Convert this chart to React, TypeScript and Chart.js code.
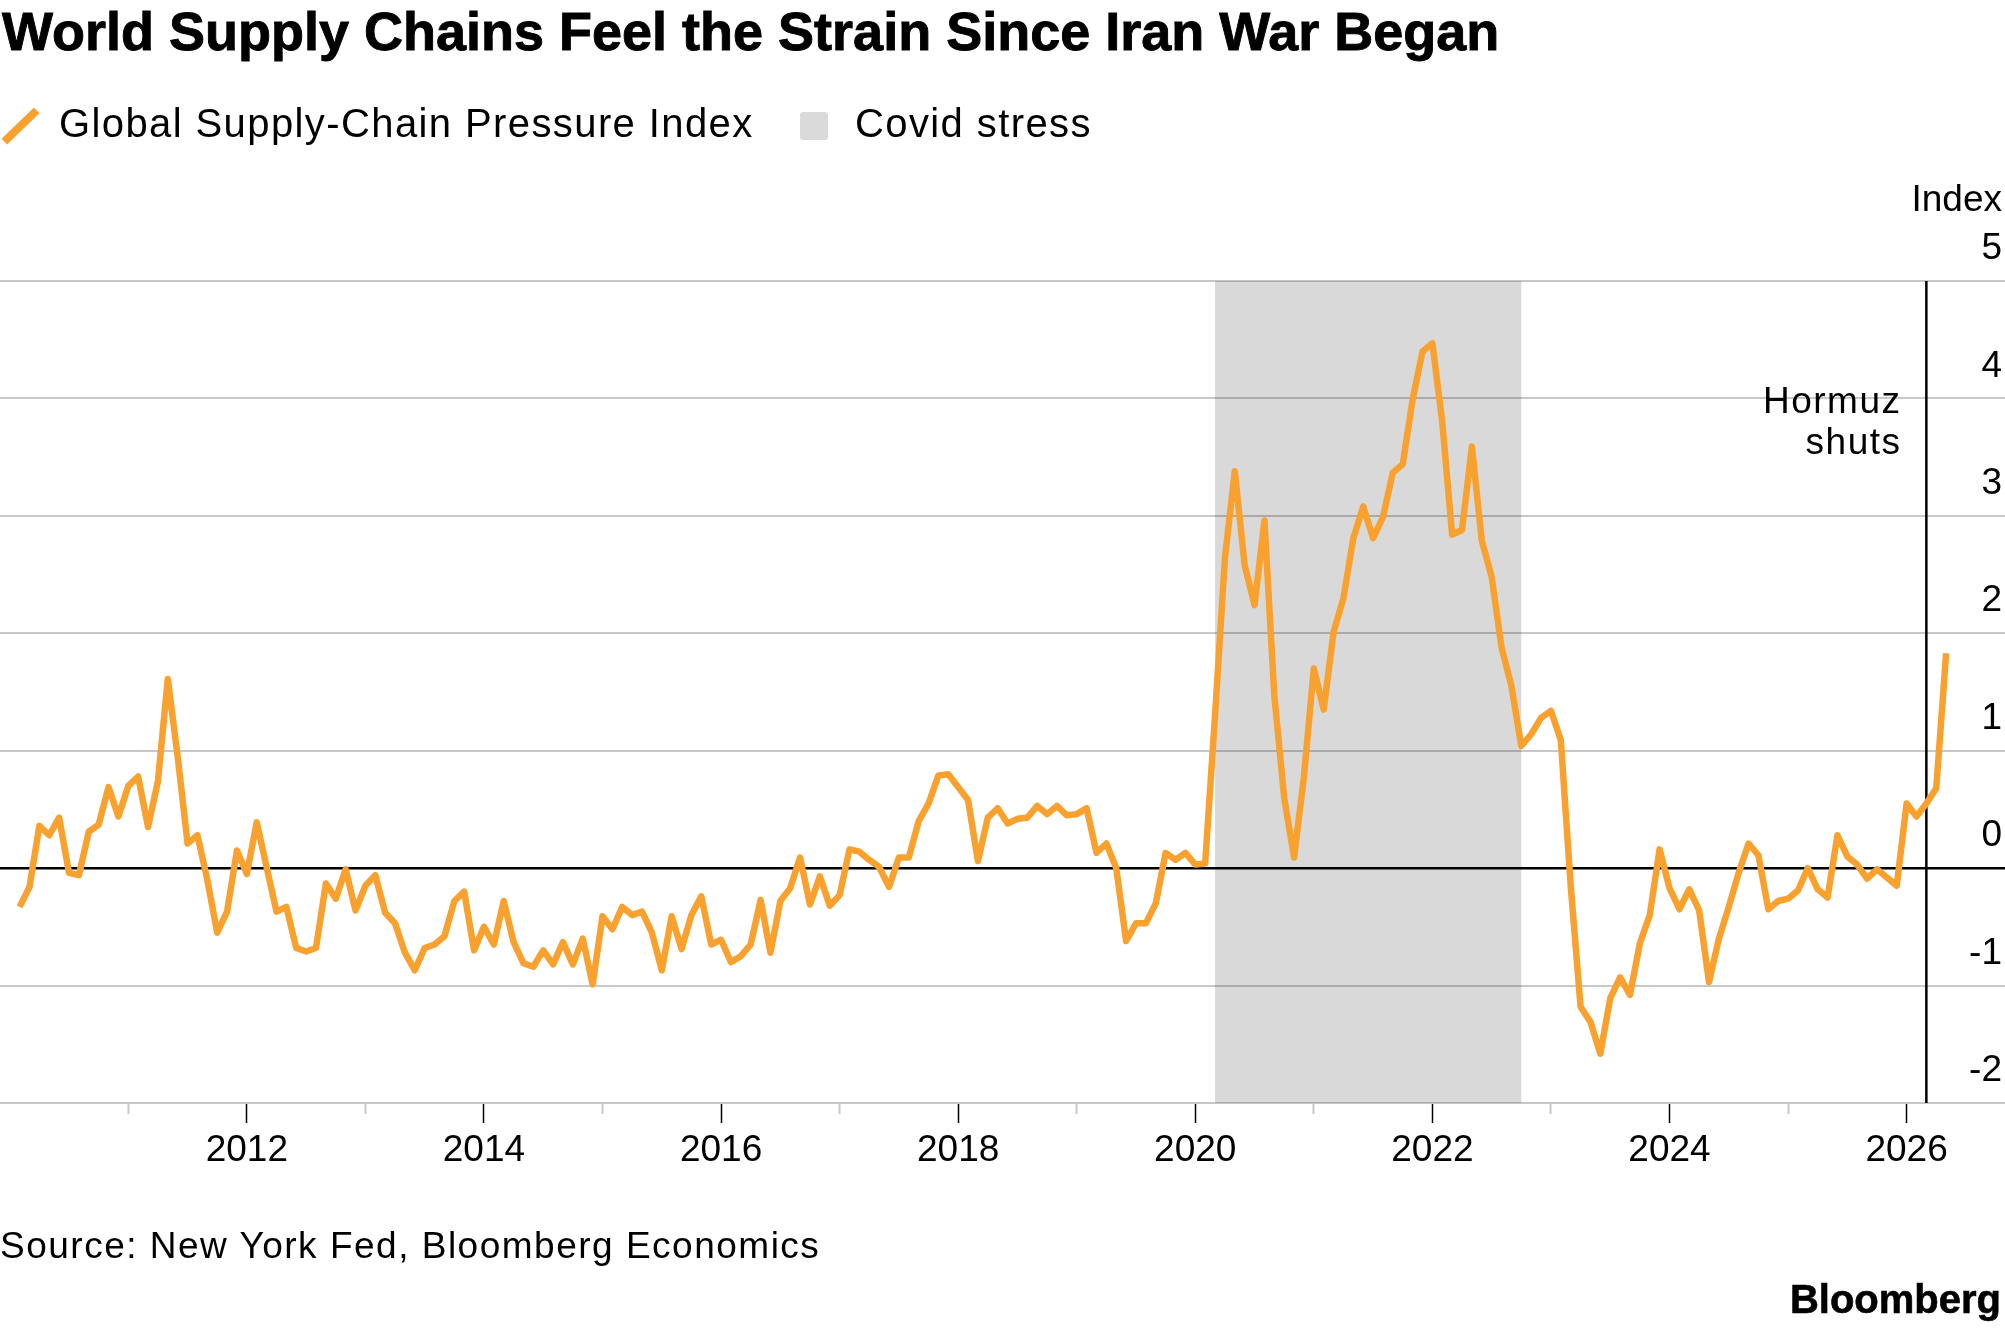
import React, { useEffect, useRef } from 'react';
import { Chart, registerables } from 'chart.js';

Chart.register(...registerables);

// ---- Data (Global Supply-Chain Pressure Index, monthly, Jan 2010 - Apr 2026) ----
const START_YEAR = 2010;
const v2010 = [-0.33, -0.16, 0.36, 0.28, 0.43, -0.04, -0.06, 0.31, 0.37, 0.69, 0.44, 0.7];
const v2011 = [0.78, 0.35, 0.74, 1.61, 0.95, 0.21, 0.28, -0.1, -0.55, -0.37, 0.15, -0.05];
const v2012 = [0.39, 0.01, -0.37, -0.33, -0.68, -0.71, -0.68, -0.13, -0.26, -0.01, -0.36, -0.15];
const v2013 = [-0.06, -0.38, -0.47, -0.72, -0.87, -0.68, -0.65, -0.58, -0.28, -0.2, -0.7, -0.5];
const v2014 = [-0.65, -0.28, -0.63, -0.81, -0.84, -0.7, -0.82, -0.63, -0.82, -0.6, -0.99, -0.41];
const v2015 = [-0.52, -0.33, -0.4, -0.37, -0.55, -0.87, -0.41, -0.69, -0.4, -0.24, -0.65, -0.61];
const v2016 = [-0.8, -0.75, -0.65, -0.27, -0.72, -0.28, -0.17, 0.09, -0.31, -0.07, -0.32, -0.23];
const v2017 = [0.16, 0.14, 0.07, 0.01, -0.16, 0.09, 0.09, 0.4, 0.55, 0.79, 0.8, 0.69];
const v2018 = [0.58, 0.06, 0.43, 0.51, 0.38, 0.42, 0.43, 0.53, 0.46, 0.53, 0.45, 0.46];
const v2019 = [0.51, 0.13, 0.21, 0.0, -0.62, -0.47, -0.47, -0.3, 0.13, 0.07, 0.13, 0.03];
const v2020 = [0.04, 1.3, 2.64, 3.38, 2.58, 2.24, 2.96, 1.47, 0.6, 0.09, 0.78, 1.7];
const v2021 = [1.35, 2.01, 2.3, 2.81, 3.08, 2.81, 2.99, 3.37, 3.44, 3.99, 4.4, 4.47];
const v2022 = [3.8, 2.84, 2.88, 3.59, 2.79, 2.48, 1.88, 1.55, 1.04, 1.14, 1.28, 1.34];
const v2023 = [1.09, -0.15, -1.18, -1.31, -1.58, -1.11, -0.93, -1.08, -0.64, -0.4, 0.16, -0.17];
const v2024 = [-0.35, -0.18, -0.36, -0.97, -0.6, -0.33, -0.04, 0.21, 0.11, -0.35, -0.28, -0.26];
const v2025 = [-0.19, 0.0, -0.18, -0.25, 0.28, 0.1, 0.03, -0.09, -0.01, -0.08, -0.15, 0.55];
const v2026 = [0.44, 0.55, 0.68, 1.83];
const YEARLY_VALUES = [
  v2010, v2011, v2012, v2013, v2014, v2015, v2016, v2017, v2018,
  v2019, v2020, v2021, v2022, v2023, v2024, v2025, v2026,
];

const MAJOR_YEARS = [2012, 2014, 2016, 2018, 2020, 2022, 2024, 2026];
const MINOR_YEARS = [2011, 2013, 2015, 2017, 2019, 2021, 2023, 2025];
const Y_TICKS = [-2, -1, 0, 1, 2, 3, 4, 5];

const COVID_START = 2020 + 2 / 12; // Feb 2020
const COVID_END = 2022 + 9 / 12; // Sep 2022
const HORMUZ_SHUT = 2026 + 2 / 12; // Feb 2026

const X_MIN = 2009.918;
const X_MAX = 2026.83;

const ORANGE = '#f9a12e';
const FONT = '"Liberation Sans", Arial, Helvetica, sans-serif';

function buildPoints() {
  const pts: { x: number; y: number }[] = [];
  YEARLY_VALUES.forEach((arr, yi) => {
    arr.forEach((v, m) => {
      pts.push({ x: START_YEAR + yi + (m + 1) / 12, y: v });
    });
  });
  return pts;
}

const overlayPlugin = {
  id: 'overlay',
  beforeDatasetsDraw(chart: any) {
    const { ctx, chartArea, scales } = chart;
    const x = scales.x;
    ctx.save();
    const x0 = x.getPixelForValue(COVID_START);
    const x1 = x.getPixelForValue(COVID_END);
    ctx.fillStyle = 'rgba(0,0,0,0.15)';
    ctx.fillRect(x0, chartArea.top, x1 - x0, chartArea.bottom - chartArea.top);
    const hx = x.getPixelForValue(HORMUZ_SHUT);
    ctx.strokeStyle = '#000';
    ctx.lineWidth = 2.5;
    ctx.beginPath();
    ctx.moveTo(hx, chartArea.top);
    ctx.lineTo(hx, chartArea.bottom);
    ctx.stroke();
    ctx.restore();
  },
};

export default function App() {
  const canvasRef = useRef<HTMLCanvasElement | null>(null);

  useEffect(() => {
    if (!canvasRef.current) return;
    Chart.defaults.font.family = FONT;
    const chart = new Chart(canvasRef.current, {
      type: 'line',
      data: {
        datasets: [
          {
            label: 'Global Supply-Chain Pressure Index',
            data: buildPoints(),
            borderColor: ORANGE,
            borderWidth: 6.5,
            pointRadius: 0,
            tension: 0,
            borderJoinStyle: 'round',
            borderCapStyle: 'butt',
            fill: false,
            xAxisID: 'x',
            yAxisID: 'y',
          },
        ],
      },
      options: {
        animation: false,
        responsive: false,
        maintainAspectRatio: false,
        layout: { padding: { top: 281, left: 0, right: 0, bottom: 156 } },
        plugins: {
          legend: { display: false },
          tooltip: { enabled: false },
          title: { display: false },
        },
        scales: {
          x: {
            type: 'linear',
            position: 'bottom',
            weight: 1,
            min: X_MIN,
            max: X_MAX,
            afterBuildTicks: (s: any) => {
              s.ticks = MAJOR_YEARS.map((v) => ({ value: v }));
            },
            afterFit: (s: any) => {
              s.height = 70;
            },
            grid: {
              drawOnChartArea: false,
              drawTicks: true,
              tickLength: 20,
              tickColor: '#000',
              tickWidth: 1.5,
            },
            border: { display: true, color: '#c8c8c8', width: 2 },
            ticks: {
              autoSkip: false,
              maxRotation: 0,
              padding: 6,
              color: '#000',
              font: { size: 37, family: FONT },
              callback: (v: any) => String(v),
            },
          },
          x2: {
            type: 'linear',
            position: 'bottom',
            weight: 0,
            min: X_MIN,
            max: X_MAX,
            afterBuildTicks: (s: any) => {
              s.ticks = MINOR_YEARS.map((v) => ({ value: v }));
            },
            afterFit: (s: any) => {
              s.height = 0;
            },
            grid: {
              drawOnChartArea: false,
              drawTicks: true,
              tickLength: 11,
              tickColor: '#c8c8c8',
              tickWidth: 2,
            },
            border: { display: false },
            ticks: { display: false },
          },
          y: {
            type: 'linear',
            position: 'right',
            min: -2,
            max: 5,
            afterBuildTicks: (s: any) => {
              s.ticks = Y_TICKS.map((v) => ({ value: v }));
            },
            afterFit: (s: any) => {
              s.width = 0;
            },
            grid: {
              drawTicks: false,
              color: (c: any) => (c.tick && c.tick.value === 0 ? '#000' : '#c8c8c8'),
              lineWidth: (c: any) => (c.tick && c.tick.value === 0 ? 2.5 : 2),
            },
            border: { display: false },
            ticks: {
              mirror: true,
              padding: -3,
              labelOffset: -32,
              color: '#000',
              font: { size: 37, family: FONT },
              callback: (v: any) => String(v),
            },
          },
        },
      } as any,
      plugins: [overlayPlugin],
    });
    return () => chart.destroy();
  }, []);

  const base: React.CSSProperties = {
    position: 'absolute',
    fontFamily: FONT,
    color: '#000',
    whiteSpace: 'nowrap',
    margin: 0,
  };

  return (
    <div
      style={{
        position: 'absolute',
        left: 0,
        top: 0,
        width: 2005,
        height: 1329,
        background: '#fff',
        overflow: 'hidden',
      }}
    >
      <canvas
        ref={canvasRef}
        width={2005}
        height={1329}
        style={{ position: 'absolute', left: 0, top: 0, width: 2005, height: 1329 }}
      />
      <div
        style={{
          ...base,
          left: 2,
          top: 4.3,
          fontSize: 54,
          lineHeight: '54px',
          fontWeight: 700,
          WebkitTextStroke: '0.9px #000',
        }}
      >
        World Supply Chains Feel the Strain Since Iran War Began
      </div>
      <div
        style={{
          position: 'absolute',
          left: -2,
          top: 122,
          width: 45,
          height: 8,
          background: ORANGE,
          transform: 'rotate(-44deg)',
        }}
      />
      <div style={{ ...base, left: 59, top: 103, fontSize: 40, lineHeight: '40px', letterSpacing: '1.4px' }}>
        Global Supply-Chain Pressure Index
      </div>
      <div
        style={{
          position: 'absolute',
          left: 800,
          top: 112,
          width: 28,
          height: 28,
          background: '#dadada',
          borderRadius: 3,
        }}
      />
      <div style={{ ...base, left: 855, top: 103, fontSize: 40, lineHeight: '40px', letterSpacing: '1.4px' }}>
        Covid stress
      </div>
      <div style={{ ...base, right: 3, top: 180, fontSize: 37, lineHeight: '37px', textAlign: 'right' }}>
        Index
      </div>
      <div
        style={{
          ...base,
          right: 103.5,
          top: 379.5,
          fontSize: 37,
          lineHeight: '41px',
          textAlign: 'right',
          letterSpacing: '1.5px',
        }}
      >
        Hormuz
        <br />
        shuts
      </div>
      <div style={{ ...base, left: 0, top: 1226.7, fontSize: 37, lineHeight: '37px', letterSpacing: '1.5px' }}>
        Source: New York Fed, Bloomberg Economics
      </div>
      <div
        style={{
          ...base,
          right: 4,
          top: 1279,
          fontSize: 40,
          lineHeight: '40px',
          fontWeight: 700,
          WebkitTextStroke: '0.6px #000',
        }}
      >
        Bloomberg
      </div>
    </div>
  );
}
